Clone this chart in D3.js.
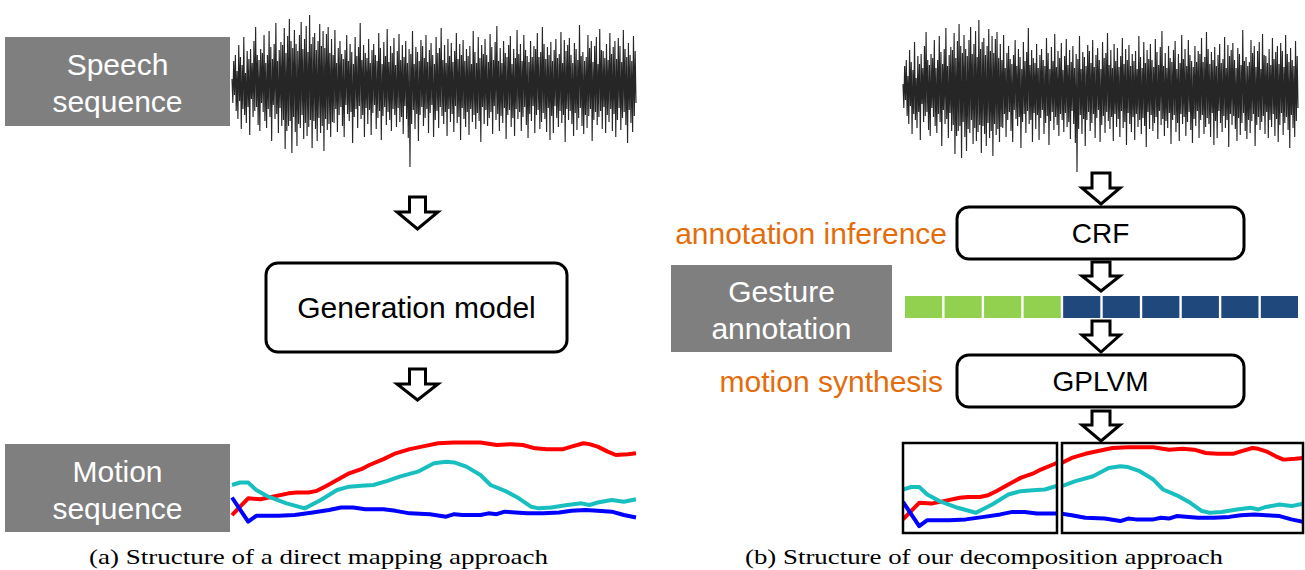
<!DOCTYPE html>
<html>
<head>
<meta charset="utf-8">
<script src="https://cdn.jsdelivr.net/npm/d3@7"></script>
<style>
  body { margin: 0; background: #fff; }
  svg { display: block; }
</style>
</head>
<body>
<div id="figure"></div>
<script>
// speech waveform amplitude, same clip in both panels
var speechWave = [
  6,-18,24,-10,30,-26,14,-34,40,-16,28,-44,20,-24,48,-30,12,-38,34,-22,
  26,-50,36,-14,22,-32,44,-26,58,-22,30,-40,25,-46,36,-18,32,-27,50,-36,
  22,-43,30,-24,54,-32,38,-56,26,-20,41,-34,62,-29,24,-48,35,-23,43,-41,
  40,-35,57,-64,32,-46,49,-41,66,-36,44,-68,37,-32,55,-47,41,-61,34,-39,
  50,-43,63,-30,36,-54,46,-38,59,-51,33,-42,70,-35,41,-63,48,-36,52,-44,
  35,-56,44,-33,61,-48,39,-41,54,-66,37,-34,51,-45,58,-39,32,-52,46,-37,
  30,-38,55,-24,22,-47,37,-30,44,-22,31,-41,26,-52,35,-20,50,-29,24,-36,
  41,-27,33,-58,21,-32,48,-24,29,-43,38,-21,62,-34,25,-30,40,-52,32,-23,
  27,-39,46,-25,22,-50,35,-28,41,-20,30,-44,24,-33,52,-26,37,-55,21,-31,
  43,-22,29,-40,56,-27,23,-35,39,-46,32,-24,47,-30,20,-42,34,-23,51,-37,
  25,-32,40,-49,28,-21,44,-34,22,-53,36,-82,31,-39,54,-25,21,-44,38,-29,
  33,-56,24,-30,45,-22,39,-41,27,-33,50,-24,23,-48,35,-28,42,-20,30,-52,
  21,-35,48,-26,32,-43,37,-22,57,-31,25,-39,40,-27,22,-51,46,-24,29,-37,
  42,-29,23,-47,34,-21,52,-38,26,-32,41,-55,30,-23,45,-34,24,-42,36,-27,
  29,-50,39,-24,21,-37,54,-30,33,-44,22,-28,48,-36,27,-57,40,-22,31,-39,
  46,-25,30,-41,23,-33,51,-27,38,-49,25,-21,43,-35,59,-29,24,-46,37,-31,
  22,-38,44,-23,32,-54,28,-30,40,-25,49,-42,21,-33,36,-51,27,-24,55,-34,
  31,-27,41,-46,24,-32,50,-22,35,-40,29,-53,23,-29,44,-36,28,-21,39,-48,
  36,-30,52,-25,28,-44,33,-37,58,-28,41,-34,26,-47,38,-23,30,-55,43,-31,
  24,-48,35,-21,46,-33,27,-42,31,-26,53,-38,22,-30,45,-57,34,-24,40,-35,
  47,-26,30,-39,22,-51,42,-28,36,-45,25,-33,60,-23,29,-41,33,-49,24,-30,
  28,-43,50,-31,37,-24,44,-56,23,-35,39,-27,48,-40,21,-32,56,-26,35,-44,
  34,-22,27,-48,41,-30,25,-37,52,-24,31,-46,38,-29,44,-52,26,-35,47,-23,
  39,-45,23,-33,55,-27,36,-40,28,-58,42,-25,30,-38,24,-47,49,-31,34,-18
];

// motion trajectories as [frame, value]
var motionRed = [[0,14],[4,34],[7,33],[10,36],[14,40],[16,41],[19,41],[21,43],[23,48],[26,56],
  [29,64],[32,69],[34,74],[37.5,81],[40.5,88],[44,93],[47,96],[51,100],[55,101],[61.5,101],
  [65.5,98],[69,99],[72,98],[75,94],[78,93],[82,93],[84,96],[87,100],[88.5,99],[90.5,96],
  [93,90],[95,86],[98,87],[100,88]];
var motionCyan = [[0,50],[2,53],[4,53],[6,44],[9,36],[13.5,28],[18,22],[22,32],[26,44],[29,48],
  [32,49],[35,50],[38.5,55],[41.5,60],[46,66],[50,76],[53,78],[55,77],[58,72],[61.5,62],
  [64,50],[68,42],[71,34],[74,24],[76,22],[79,23],[83,26],[86.5,28],[88.5,26],[90.5,29],
  [94,32],[97,30],[100,33]];
var motionBlue = [[0,35],[4,6],[6,13],[11.5,13],[15.5,14],[20,17],[24,20],[27,23],[30,23],[33,21],
  [37.5,21],[40.5,19],[44,16],[49,15],[53,12],[55,15],[57,14],[61.5,14],[63.5,16],[65.5,15],
  [67.5,18],[73,16],[77,16],[81,17],[84,19],[87.5,20],[90.5,19],[94,18],[97,14],[100,11]];

// gesture annotation per segment: 1 = gesture, 0 = no gesture
var gestureAnnotation = [1,1,1,1,0,0,0,0,0,0];
var annotationColors = {1: "#92d050", 0: "#1f497d"};
var splitFrame = 38;

var speechLabel = ["Speech", "sequence"];
var motionLabel = ["Motion", "sequence"];
var gestureLabel = ["Gesture", "annotation"];
var captionA = "(a) Structure of a direct mapping approach";
var captionB = "(b) Structure of our decomposition approach";

var FONT = "'Liberation Sans', Arial, sans-serif";
var SERIF = "'Liberation Serif', 'DejaVu Serif', serif";
var ORANGE = "#e46c0a";

var svg = d3.select("#figure").append("svg")
  .attr("width", 1305)
  .attr("height", 570);

var defs = svg.append("defs");

function grayBox(x, y, w, h, lines){
  var g = svg.append("g");
  g.append("rect").attr("x", x).attr("y", y).attr("width", w).attr("height", h)
    .attr("fill", "#7f7f7f");
  var cy = y + h / 2;
  g.selectAll("text").data(lines).enter().append("text")
    .attr("x", x + w / 2)
    .attr("y", function(d, i){ return i == 0 ? cy - 6.5 : cy + 30.5; })
    .attr("text-anchor", "middle")
    .attr("font-family", FONT).attr("font-size", 30)
    .attr("fill", "#fff")
    .text(function(d){ return d; });
}

function modelBox(x, y, w, h, label, size){
  svg.append("rect").attr("x", x).attr("y", y).attr("width", w).attr("height", h)
    .attr("rx", 12).attr("ry", 12)
    .attr("fill", "#fff").attr("stroke", "#000").attr("stroke-width", 3);
  svg.append("text").attr("x", x + w / 2).attr("y", y + h / 2 + size * 0.36)
    .attr("text-anchor", "middle")
    .attr("font-family", FONT).attr("font-size", size)
    .text(label);
}

function arrow(cx, top, head, tip, sw, hw){
  var pts = [[cx - sw, top], [cx + sw, top], [cx + sw, head], [cx + hw, head], [cx, tip],
             [cx - hw, head], [cx - sw, head]];
  svg.append("path").attr("d", d3.line()(pts) + "Z")
    .attr("fill", "#fff").attr("stroke", "#000").attr("stroke-width", 3)
    .attr("stroke-linejoin", "miter");
}

function drawWave(x0, x1, cy){
  var x = d3.scaleLinear().domain([0, speechWave.length - 1]).range([x0, x1]);
  var y = d3.scaleLinear().domain([-80, 80]).range([cy + 80, cy - 80]);
  var line = d3.line().x(function(d, i){ return x(i); }).y(function(d){ return y(d); });
  svg.append("path").datum(speechWave)
    .attr("d", line)
    .attr("fill", "none").attr("stroke", "#000")
    .attr("stroke-width", 1.15).attr("stroke-opacity", 0.85);
}

function drawMotion(g, x, y){
  var line = d3.line().x(function(d){ return x(d[0]); }).y(function(d){ return y(d[1]); });
  var series = [[motionRed, "#ff0000"], [motionCyan, "#19bfbf"], [motionBlue, "#0000ff"]];
  g.selectAll("path.motion").data(series).enter().append("path")
    .attr("class", "motion")
    .attr("d", function(d){ return line(d[0]); })
    .attr("fill", "none")
    .attr("stroke", function(d){ return d[1]; })
    .attr("stroke-width", 4)
    .attr("stroke-linejoin", "round");
}

// ---- (a) direct mapping ----
grayBox(5, 37, 225, 89, speechLabel);
drawWave(232, 636, 85);
arrow(417.5, 197, 212, 229, 8, 20.5);
modelBox(266, 263, 301, 89, "Generation model", 30);
arrow(417.5, 369, 384, 400, 8, 20.5);
grayBox(5, 444, 225, 88, motionLabel);

var xa = d3.scaleLinear().domain([0, 100]).range([232, 636]);
var ya = d3.scaleLinear().domain([0, 100]).range([526.7, 443.3]);
drawMotion(svg.append("g"), xa, ya);

// ---- (b) decomposition ----
drawWave(903, 1298, 90);
arrow(1101, 173, 188, 204, 9, 19);
modelBox(957, 207, 287, 52, "CRF", 28);
svg.append("text").attr("x", 947).attr("y", 244)
  .attr("text-anchor", "end").attr("font-family", FONT).attr("font-size", 30)
  .attr("fill", ORANGE).text("annotation inference");

arrow(1101, 262, 276, 291, 9, 19);
grayBox(671, 265, 221, 87, gestureLabel);

var xs = d3.scaleBand().domain(d3.range(gestureAnnotation.length)).range([905, 1298]).paddingInner(0.06);
svg.append("g").selectAll("rect").data(gestureAnnotation).enter().append("rect")
  .attr("x", function(d, i){ return xs(i); })
  .attr("y", 296)
  .attr("width", xs.bandwidth())
  .attr("height", 22)
  .attr("fill", function(d){ return annotationColors[d]; });

arrow(1101, 321, 335, 352, 9, 19);
modelBox(957, 355, 287, 52, "GPLVM", 28);
svg.append("text").attr("x", 943).attr("y", 392)
  .attr("text-anchor", "end").attr("font-family", FONT).attr("font-size", 30)
  .attr("fill", ORANGE).text("motion synthesis");
arrow(1101, 411, 425, 441, 9, 19);

var yb = d3.scaleLinear().domain([0, 100]).range([531, 448]);
var panels = [
  {id: "clipL", x0: 903, x1: 1057, d: [0, splitFrame]},
  {id: "clipR", x0: 1062, x1: 1303, d: [splitFrame, 100]}
];
panels.forEach(function(p){
  defs.append("clipPath").attr("id", p.id).append("rect")
    .attr("x", p.x0).attr("y", 443).attr("width", p.x1 - p.x0).attr("height", 90);
  var xp = d3.scaleLinear().domain(p.d).range([p.x0, p.x1]);
  drawMotion(svg.append("g").attr("clip-path", "url(#" + p.id + ")"), xp, yb);
  svg.append("rect").attr("x", p.x0).attr("y", 443).attr("width", p.x1 - p.x0).attr("height", 90)
    .attr("fill", "none").attr("stroke", "#000").attr("stroke-width", 2.5);
});

// captions
svg.append("text").attr("x", 318.5).attr("y", 564)
  .attr("text-anchor", "middle").attr("font-family", SERIF)
  .attr("font-size", 22).attr("textLength", 459).attr("lengthAdjust", "spacingAndGlyphs")
  .text(captionA);
svg.append("text").attr("x", 984).attr("y", 564)
  .attr("text-anchor", "middle").attr("font-family", SERIF)
  .attr("font-size", 22).attr("textLength", 478).attr("lengthAdjust", "spacingAndGlyphs")
  .text(captionB);
</script>
</body>
</html>
